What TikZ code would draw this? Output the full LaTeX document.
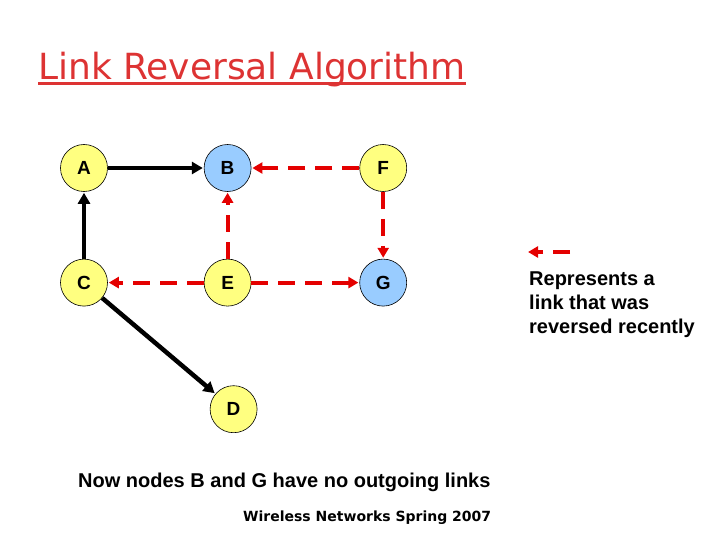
\documentclass[tikz,border=0pt]{standalone}
\usepackage{fontspec}
\setmainfont{Liberation Sans}
\newfontfamily\verdfont{DejaVu Sans}
\usetikzlibrary{positioning,arrows.meta}

\definecolor{nodeyellow}{RGB}{255,255,128}
\definecolor{nodeblue}{RGB}{153,204,255}
\definecolor{linkred}{RGB}{228,0,0}
\definecolor{titlered}{RGB}{221,51,51}

\tikzset{
  router/.style={circle, draw=black, line width=0.6pt, minimum size=47pt, inner sep=0pt,
    font=\bfseries\fontsize{19}{19}\selectfont},
  oldlink/.style={line width=4.5pt, -{Triangle[length=11pt,width=12pt]}, shorten >=1pt},
  newlink/.style={line width=4pt, linkred, dash pattern=on 17pt off 10pt,
    -{Triangle[length=10pt,width=11pt]}, shorten >=1pt},
}

\begin{document}
\begin{tikzpicture}[x=1pt, y=-1pt]
  \useasboundingbox (0,0) rectangle (720,540);

  % title
  \node (title) [anchor=base west, inner sep=0pt, text=titlered,
    font=\verdfont\fontsize{36}{40}\selectfont] at (38,80) {Link Reversal Algorithm};
  \draw [titlered, line width=2.6pt] ([yshift=-3.5pt]title.base west) -- ([yshift=-3.5pt]title.base east);

  % nodes
  \node (a) [router, fill=nodeyellow] at (84,168) {A};
  \node (b) [router, fill=nodeblue, right=96pt of a] {B};
  \node (f) [router, fill=nodeyellow, right=108pt of b] {F};
  \node (c) [router, fill=nodeyellow, below=67pt of a] {C};
  \node (e) [router, fill=nodeyellow, below=67pt of b] {E};
  \node (g) [router, fill=nodeblue, below=67pt of f] {G};
  \node (d) [router, fill=nodeyellow, below=79pt of e, xshift=6pt] {D};

  % links
  \draw [oldlink] (a) -- (b);
  \draw [oldlink] (c) -- (a);
  \draw [oldlink] (c) -- (d);
  \draw [newlink] (f) -- (b);
  \draw [newlink] (e) -- (b);
  \draw [newlink] (f) -- (g);
  \draw [newlink] (e) -- (c);
  \draw [newlink] (e) -- (g);

  % legend
  \coordinate (legstart) at (570,252);
  \coordinate (legend) at (528,252);
  \draw [newlink, shorten >=0pt] (legstart) -- (legend);
  \node (legtext) [anchor=north west, inner sep=0pt, align=left,
    font=\bfseries\fontsize{20}{24}\selectfont] at (529,272)
    {Represents a\\link that was\\reversed recently};

  % captions
  \node (caption) [anchor=base west, inner sep=0pt, font=\bfseries\fontsize{20}{24}\selectfont]
    at (78,487) {Now nodes B and G have no outgoing links};
  \node (footer) [anchor=base west, inner sep=0pt, font=\verdfont\bfseries\fontsize{14}{18}\selectfont]
    at (243,521) {Wireless Networks Spring 2007};
\end{tikzpicture}
\end{document}
